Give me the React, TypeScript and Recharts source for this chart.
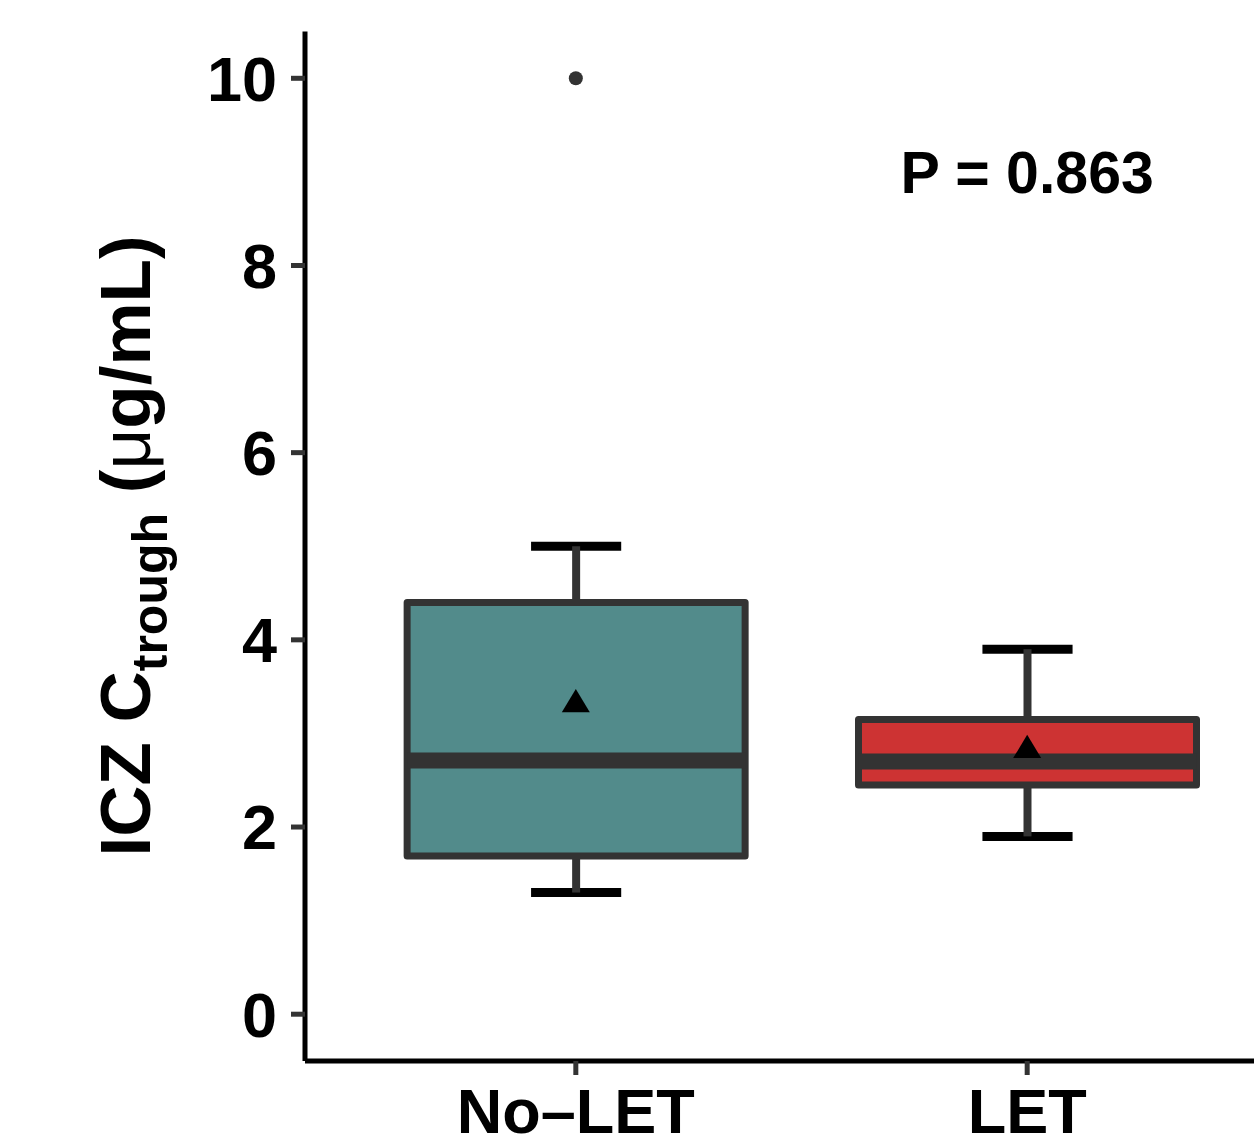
import React from "react";
import { ComposedChart, Bar, Scatter, XAxis, YAxis } from "recharts";

const groups = ["No–LET", "LET"];
const groupPos = [1, 2];
const whiskerLow = [1.3, 1.9];
const lowerQ = [1.69, 2.45];
const medians = [2.71, 2.7];
const upperQ = [4.4, 3.15];
const whiskerHigh = [5.0, 3.9];
const means = [3.31, 2.82];
const fills = ["#528B8B", "#CD3333"];
const outliers = [{ x: 1, y: 10 }];
const yTicks = [0, 2, 4, 6, 8, 10];
const pLabel = { x: 2, y: 9, text: "P = 0.863" };

const boxData = groupPos.map((x, i) => ({
  x,
  wlo: whiskerLow[i],
  q1: lowerQ[i],
  med: medians[i],
  q3: upperQ[i],
  whi: whiskerHigh[i],
  fill: fills[i],
}));
const meanData = groupPos.map((x, i) => ({ x, y: means[i] }));

const font = "'Liberation Sans', Arial, Helvetica, sans-serif";

function BoxShape(props: any) {
  const { x, y, width, height, payload } = props;
  const { wlo, whi, q1, q3, med, fill } = payload;
  const k = height / (whi - wlo);
  const toY = (v: number) => y + (whi - v) * k;
  const cx = x + width / 2;
  const capHalf = (width * 0.2) / 0.75 / 2;
  return (
    <g>
      <line x1={cx - capHalf} x2={cx + capHalf} y1={toY(whi)} y2={toY(whi)} stroke="#000" strokeWidth={9} />
      <line x1={cx - capHalf} x2={cx + capHalf} y1={toY(wlo)} y2={toY(wlo)} stroke="#000" strokeWidth={9} />
      <line x1={cx} x2={cx} y1={toY(whi)} y2={toY(q3)} stroke="#333333" strokeWidth={8} />
      <line x1={cx} x2={cx} y1={toY(q1)} y2={toY(wlo)} stroke="#333333" strokeWidth={8} />
      <rect
        x={x}
        y={toY(q3)}
        width={width}
        height={toY(q1) - toY(q3)}
        fill={fill}
        stroke="#333333"
        strokeWidth={7}
        strokeLinejoin="round"
      />
      <line x1={x} x2={x + width} y1={toY(med)} y2={toY(med)} stroke="#333333" strokeWidth={16} />
    </g>
  );
}

function MeanShape(props: any) {
  const { cx, cy } = props;
  return <polygon points={`${cx},${cy - 15.5} ${cx + 14},${cy + 7.8} ${cx - 14},${cy + 7.8}`} fill="#000" />;
}

function OutlierShape(props: any) {
  const { cx, cy } = props;
  return <circle cx={cx} cy={cy} r={7} fill="#333333" />;
}

function PShape(props: any) {
  const { cx, cy } = props;
  return (
    <text x={cx} y={cy} dy="0.36em" textAnchor="middle" fontSize={59} fontWeight="bold" fontFamily={font} fill="#000">
      {pLabel.text}
    </text>
  );
}

function YTitle() {
  const bx = 150;
  const by = 546;
  return (
    <text
      x={bx}
      y={by}
      transform={`rotate(-90 ${bx} ${by})`}
      textAnchor="middle"
      fontFamily={font}
      fontWeight="bold"
      fontSize={71}
      fill="#000"
    >
      <tspan>ICZ C</tspan>
      <tspan fontSize={50} dy={17}>trough</tspan>
      <tspan dy={-17}>{" ("}</tspan>
      <tspan fontWeight="normal">μ</tspan>
      <tspan>g/mL)</tspan>
    </text>
  );
}

const tickStyle = { fontSize: 63, fontWeight: "bold" as const, fill: "#000", fontFamily: font };

export default function App() {
  return (
    <div style={{ position: "absolute", left: 0, top: 0, width: 1254, height: 1138, overflow: "hidden", background: "#fff" }}>
      <ComposedChart width={1298} height={1138} data={boxData} margin={{ top: 31.5, right: 0, bottom: 0, left: 0 }}>
        <XAxis
          dataKey="x"
          type="number"
          domain={[0.4, 2.6]}
          ticks={groupPos}
          tickFormatter={(v: number) => groups[v - 1]}
          height={77}
          axisLine={{ stroke: "#000", strokeWidth: 5 }}
          tickLine={{ stroke: "#333333", strokeWidth: 5 }}
          tickSize={14}
          tickMargin={13}
          tick={tickStyle}
          interval={0}
          allowDataOverflow
        />
        <YAxis
          type="number"
          domain={[-0.5, 10.5]}
          ticks={yTicks}
          width={305}
          axisLine={{ stroke: "#000", strokeWidth: 5 }}
          tickLine={{ stroke: "#333333", strokeWidth: 5 }}
          tickSize={14}
          tickMargin={14}
          tick={tickStyle}
          interval={0}
          allowDataOverflow
          label={<YTitle />}
        />
        <Bar dataKey={(d: any) => [d.wlo, d.whi]} barSize={338} shape={BoxShape} isAnimationActive={false} />
        <Scatter data={meanData} dataKey="y" shape={MeanShape} isAnimationActive={false} />
        <Scatter data={outliers} dataKey="y" shape={OutlierShape} isAnimationActive={false} />
        <Scatter data={[pLabel]} dataKey="y" shape={PShape} isAnimationActive={false} />
      </ComposedChart>
    </div>
  );
}
